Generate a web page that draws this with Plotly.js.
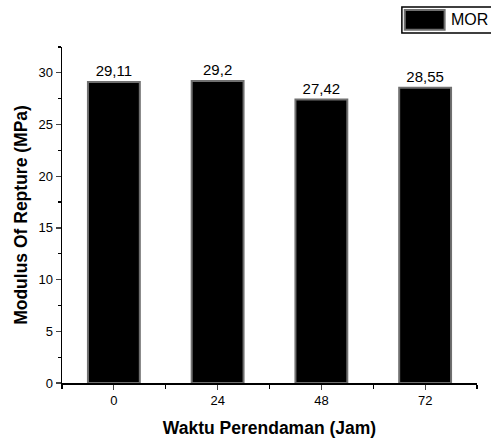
<!DOCTYPE html>
<html><head><meta charset="utf-8">
<script src="https://cdn.plot.ly/plotly-3.0.1.min.js"></script>
<style>body{margin:0;background:#fff;overflow:hidden}#c{width:491px;height:440px}</style>
</head><body><div id="c"></div>
<script>
const categories = ["0", "24", "48", "72"];
const values = [29.11, 29.2, 27.42, 28.55];
const labels = ["29,11", "29,2", "27,42", "28,55"];
const seriesName = "MOR";

const xpos = categories.map((c, i) => i);
const F = "Liberation Sans, Arial, sans-serif";

const trace = {
  type: "bar",
  x: xpos,
  y: values,
  name: seriesName,
  width: 0.5,
  text: labels,
  textposition: "outside",
  textfont: {family: F, size: 15, color: "#000"},
  cliponaxis: false,
  marker: {color: "#000", line: {color: "#707070", width: 2}},
  showlegend: false
};

const layout = {
  width: 491, height: 440,
  margin: {l: 62, r: 14, t: 47, b: 57},
  paper_bgcolor: "#fff", plot_bgcolor: "#fff",
  font: {family: F, color: "#000", size: 13},
  xaxis: {
    range: [-0.5, 3.5], tickmode: "array", tickvals: xpos, ticktext: categories,
    showline: true, linecolor: "#000", linewidth: 1.5, ticks: "outside", ticklen: 5, tickwidth: 1.2,
    showgrid: false, zeroline: false,
    minor: {tick0: 0.5, dtick: 1, ticks: "outside", ticklen: 4, tickwidth: 1.2, tickcolor: "#000", showgrid: false},
    title: {text: "<b>Waktu Perendaman (Jam)</b>", font: {family: F, size: 17.5}, standoff: 14},
    tickfont: {family: F, size: 13}
  },
  yaxis: {
    range: [0, 32.5], tickvals: [0, 5, 10, 15, 20, 25, 30],
    showline: true, linecolor: "#000", linewidth: 1.5, ticks: "outside", ticklen: 5, tickwidth: 1.2,
    showgrid: false, zeroline: false,
    minor: {dtick: 2.5, ticks: "outside", ticklen: 3, tickwidth: 1.2, tickcolor: "#000", showgrid: false},
    title: {text: "<b>Modulus Of Repture (MPa)</b>", font: {family: F, size: 17.5}, standoff: 6},
    tickfont: {family: F, size: 13}
  },
  showlegend: false,
  shapes: [
    {type: "rect", xref: "paper", yref: "paper", x0: 0.819, x1: 1.05, y0: 1.042, y1: 1.119,
     line: {color: "#000", width: 1.5}, fillcolor: "#fff", layer: "above"},
    {type: "rect", xref: "paper", yref: "paper", x0: 0.826, x1: 0.922, y0: 1.051, y1: 1.110,
     line: {color: "#707070", width: 2}, fillcolor: "#000", layer: "above"}
  ],
  annotations: [
    {xref: "paper", yref: "paper", x: 0.932, y: 1.081, xanchor: "left", yanchor: "middle",
     text: seriesName, showarrow: false, font: {family: F, size: 16, color: "#000"}}
  ]
};

Plotly.newPlot("c", [trace], layout, {displayModeBar: false, staticPlot: true});
</script></body></html>
